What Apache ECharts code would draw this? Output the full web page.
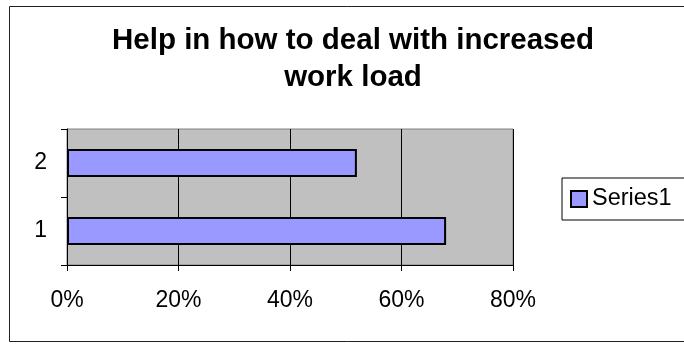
<!DOCTYPE html>
<html>
<head>
<meta charset="utf-8">
<script src="https://cdn.jsdelivr.net/npm/echarts@6/dist/echarts.min.js"></script>
<style>
  html, body { margin: 0; padding: 0; background: #fff; }
  #chart { width: 684px; height: 344px; }
</style>
</head>
<body>
<div id="chart"></div>
<script>
// Chart data
const chartTitle = 'Help in how to deal with increased\nwork load';
const categories = ['1', '2'];
const seriesName = 'Series1';
const seriesValues = [68, 52];
const xTicks = { min: 0, max: 80, interval: 20 };

const FONT = '"Liberation Sans", Arial, sans-serif';

const chart = echarts.init(document.getElementById('chart'), null, { renderer: 'canvas' });

chart.setOption({
  animation: false,
  backgroundColor: '#ffffff',
  graphic: [
    {
      // outer chart frame
      type: 'rect',
      shape: { x: 9.5, y: 6.5, width: 720, height: 335 },
      style: { fill: 'none', stroke: '#222', lineWidth: 1 },
      silent: true,
      z: -1
    }
  ],
  title: {
    text: chartTitle,
    left: 348,
    top: 17,
    textAlign: 'center',
    textStyle: {
      fontFamily: FONT,
      fontWeight: 'bold',
      fontSize: 29.5,
      lineHeight: 37,
      color: '#000'
    }
  },
  legend: {
    data: [seriesName],
    orient: 'vertical',
    left: 562,
    top: 178,
    padding: [9, 40, 9, 8],
    borderColor: '#000',
    borderWidth: 1,
    backgroundColor: '#fff',
    icon: 'rect',
    itemWidth: 16,
    itemHeight: 16,
    itemStyle: { borderColor: '#000', borderWidth: 2 },
    textStyle: { fontFamily: FONT, fontSize: 23.5, color: '#000', lineHeight: 20 }
  },
  grid: {
    left: 67,
    top: 129,
    width: 446,
    height: 136,
    show: true,
    backgroundColor: '#c0c0c0',
    borderColor: '#808080',
    borderWidth: 1
  },
  xAxis: {
    type: 'value',
    min: xTicks.min,
    max: xTicks.max,
    interval: xTicks.interval,
    axisLine: { show: true, lineStyle: { color: '#000', width: 1 } },
    axisTick: { show: true, length: 6, lineStyle: { color: '#000' } },
    splitLine: { show: true, lineStyle: { color: '#000', width: 1 } },
    axisLabel: {
      formatter: '{value}%',
      margin: 24,
      fontFamily: FONT,
      fontSize: 23,
      color: '#000'
    }
  },
  yAxis: {
    type: 'category',
    data: categories,
    axisLine: { show: true, lineStyle: { color: '#000', width: 1 } },
    axisTick: { show: true, length: 6, lineStyle: { color: '#000' } },
    splitLine: { show: false },
    axisLabel: {
      margin: 20,
      fontFamily: FONT,
      fontSize: 23,
      color: '#000'
    }
  },
  series: [
    {
      name: seriesName,
      type: 'bar',
      data: seriesValues,
      barWidth: '41%',
      itemStyle: { color: '#9999ff', borderColor: '#000', borderWidth: 2 }
    }
  ]
});
</script>
</body>
</html>
